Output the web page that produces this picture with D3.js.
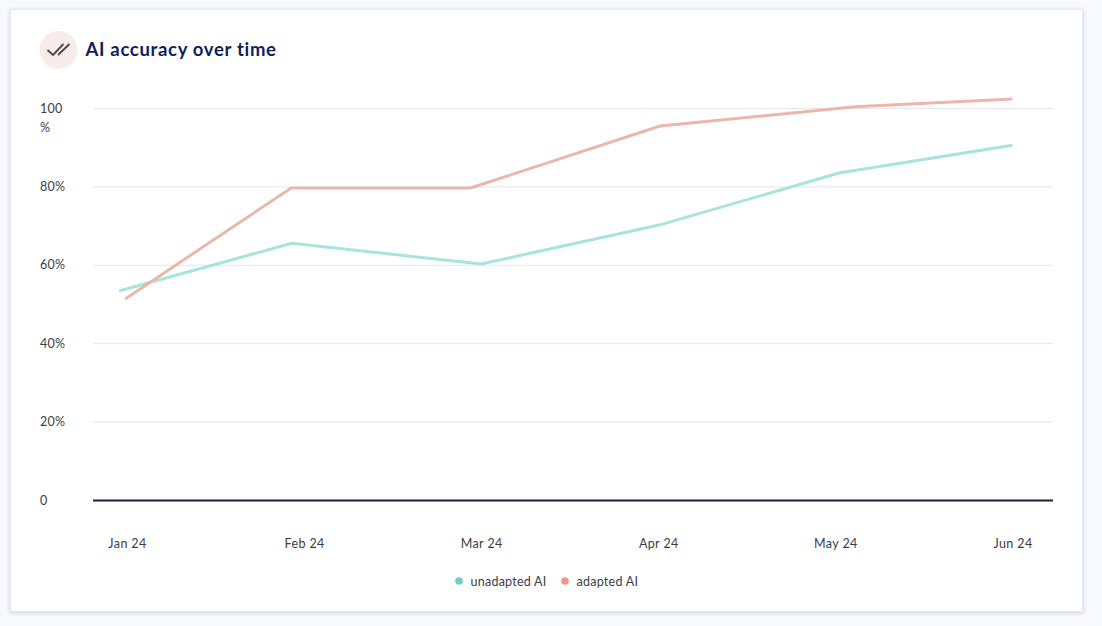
<!DOCTYPE html>
<html>
<head>
<meta charset="utf-8">
<script src="https://cdn.jsdelivr.net/npm/d3@7"></script>
<style>
  html, body { margin: 0; padding: 0; background: #f8f9fe; }
  svg { display: block; }
  text { font-family: Lato, sans-serif; }
</style>
</head>
<body>
<svg id="chart" width="1102" height="626"></svg>
<script>
const months = ["Jan 24", "Feb 24", "Mar 24", "Apr 24", "May 24", "Jun 24"];
const yTicks = [0, 20, 40, 60, 80, 100];

// points do not sit exactly under the month labels, so x is in months from Jan
const unadaptedX = [-0.045, 0.93, 2.0, 3.01, 4.02, 5.0];
const unadapted = [53.3, 65.5, 60.2, 70.2, 83.4, 90.5];
const adaptedX = [-0.01, 0.927, 1.94, 3.01, 4.11, 5.0];
const adapted = [51.3, 79.6, 79.6, 95.4, 100.3, 102.3];

const seriesNames = ["unadapted AI", "adapted AI"];
const seriesColors = ["#a9e4da", "#ecb7ab"];
const legendColors = ["#6fcfc0", "#e89a88"];

const labelColor = "#3c3c46";
const labelSize = 12.5;
const labelSpacing = 0.25;

const svg = d3.select("#chart");

const defs = svg.append("defs");
const shadow = defs.append("filter").attr("id", "cardShadow")
    .attr("x", "-3%").attr("y", "-3%").attr("width", "106%").attr("height", "106%");
shadow.append("feDropShadow")
    .attr("dx", 0).attr("dy", 1).attr("stdDeviation", 2)
    .attr("flood-color", "#c5c9e0").attr("flood-opacity", 0.9);

svg.append("rect")
    .attr("x", 10.5).attr("y", 9.5)
    .attr("width", 1072).attr("height", 602)
    .attr("fill", "#fff")
    .attr("stroke", "#e4e6f0")
    .attr("filter", "url(#cardShadow)");

// header
svg.append("circle").attr("cx", 58.5).attr("cy", 50).attr("r", 19).attr("fill", "#f7ecea");
svg.append("path")
    .attr("d", "M47.5 50 L53 55 L63.5 44 M58 55 L69.5 44")
    .attr("fill", "none")
    .attr("stroke", "#4a4a55")
    .attr("stroke-width", 1.9);
svg.append("text")
    .attr("x", 85.5).attr("y", 56)
    .attr("font-size", 18.5)
    .attr("font-weight", 700)
    .attr("letter-spacing", 0.68)
    .attr("fill", "#101f5c")
    .text("AI accuracy over time");

const x = d3.scaleLinear().domain([0, 5]).range([127, 1012.5]);
const y = d3.scaleLinear().domain([0, 100]).range([500, 108]);

// y axis, grid lines come from the tick lines
const yAxis = svg.append("g")
    .attr("transform", "translate(93,0)")
    .call(d3.axisLeft(y).tickValues(yTicks).tickSize(-960).tickFormat(""));
yAxis.select(".domain").remove();
yAxis.selectAll("line")
    .attr("stroke", d => d === 0 ? "#1c2030" : "#e6e6ec")
    .attr("stroke-width", d => d === 0 ? 2 : 1);

svg.append("g").selectAll("text")
    .data(yTicks)
    .enter()
    .append("text")
    .attr("x", 40)
    .attr("y", d => y(d) + 4.5)
    .attr("font-size", labelSize)
    .attr("letter-spacing", labelSpacing)
    .attr("fill", labelColor)
    .text(d => d === 0 || d === 100 ? d : d + "%");
svg.append("text")
    .attr("x", 40).attr("y", y(100) + 24)
    .attr("font-size", labelSize)
    .attr("fill", labelColor)
    .text("%");

// x axis labels
const xAxis = svg.append("g")
    .attr("transform", "translate(0,500)")
    .call(d3.axisBottom(x)
        .tickValues(d3.range(months.length))
        .tickSize(0)
        .tickPadding(39)
        .tickFormat(i => months[i]));
xAxis.select(".domain").remove();
xAxis.selectAll("text")
    .attr("font-size", labelSize)
    .attr("font-family", "Lato, sans-serif")
    .attr("letter-spacing", labelSpacing + 0.15)
    .attr("fill", labelColor);

const line = d3.line().x(d => x(d[0])).y(d => y(d[1]));

svg.append("path")
    .attr("d", line(d3.zip(unadaptedX, unadapted)))
    .attr("fill", "none")
    .attr("stroke", seriesColors[0])
    .attr("stroke-width", 3);
svg.append("path")
    .attr("d", line(d3.zip(adaptedX, adapted)))
    .attr("fill", "none")
    .attr("stroke", seriesColors[1])
    .attr("stroke-width", 3);

// legend
const legendX = [459, 565];
const legend = svg.append("g").selectAll("g")
    .data(seriesNames)
    .enter()
    .append("g")
    .attr("transform", (d, i) => "translate(" + legendX[i] + ",581)");
legend.append("circle")
    .attr("r", 3.8)
    .attr("fill", (d, i) => legendColors[i]);
legend.append("text")
    .attr("x", 11.5).attr("y", 4.5)
    .attr("font-size", labelSize)
    .attr("letter-spacing", labelSpacing)
    .attr("fill", labelColor)
    .text(d => d);
</script>
</body>
</html>
